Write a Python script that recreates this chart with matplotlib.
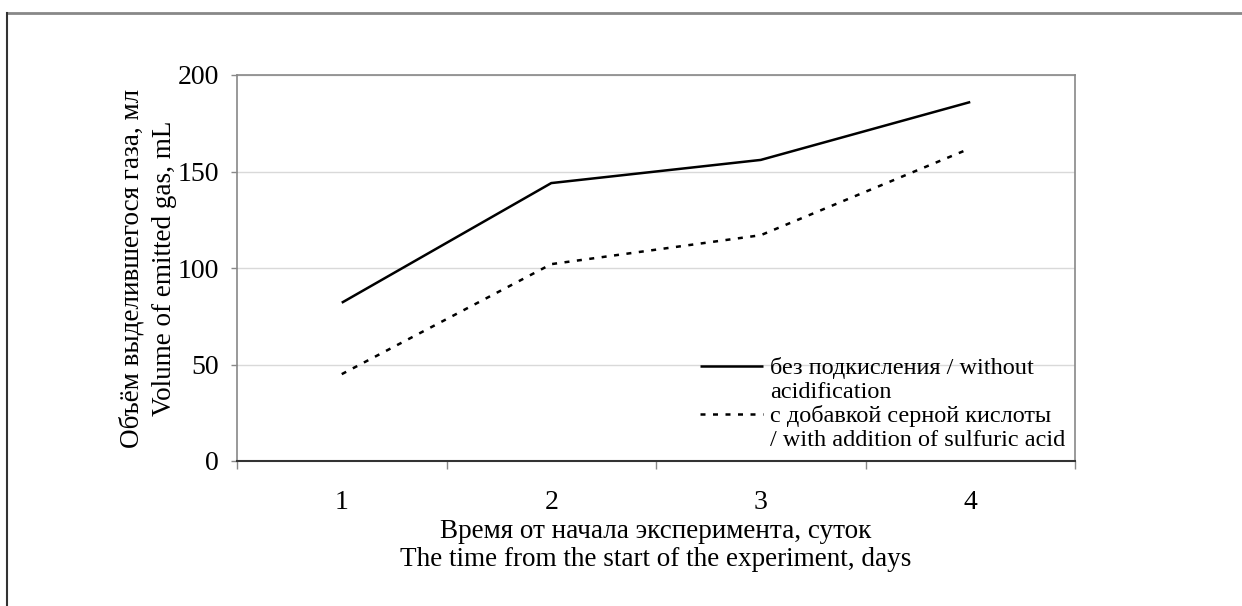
import matplotlib.pyplot as plt
from matplotlib.lines import Line2D

plt.rcParams['font.family'] = ['Liberation Serif', 'DejaVu Serif']

# ---- data ----
days = [1, 2, 3, 4]
day_labels = ['1', '2', '3', '4']
gas_plain = [82, 144, 156, 186]      # без подкисления / without acidification
gas_acid = [45, 102, 117, 162]       # с добавкой серной кислоты
y_ticks = [0, 50, 100, 150, 200]

fig = plt.figure(figsize=(12.42, 6.06), dpi=100)
ax = fig.add_axes([237 / 1242, 1 - 461 / 606, (1075 - 237) / 1242, (461 - 75) / 606])

# outer frame of the picture (only top and left are visible)
fig.add_artist(Line2D([7 / 1242, 1.01], [1 - 13 / 606] * 2, color='#888888', lw=2,
                      transform=fig.transFigure))
fig.add_artist(Line2D([7 / 1242] * 2, [-0.01, 1 - 13 / 606], color='#333333', lw=1.5,
                      transform=fig.transFigure))

ln1, = ax.plot(days, gas_plain, color='black', lw=1.8, solid_capstyle='butt')
ln2, = ax.plot(days, gas_acid, color='black', lw=1.8, linestyle=(0, (2, 3)))

ax.set_xlim(0.5, 4.5)
ax.set_ylim(0, 200)

# category axis: tick marks between categories, labels at centres
ax.set_xticks([0.5, 1.5, 2.5, 3.5, 4.5])
ax.set_xticklabels([])
ax.set_xticks(days, minor=True)
ax.set_xticklabels(day_labels, minor=True)
ax.tick_params(axis='x', which='major', length=6, width=1, color='#888888', direction='out')
ax.tick_params(axis='x', which='minor', length=0, pad=21, labelsize=20)

ax.set_yticks(y_ticks)
ax.tick_params(axis='y', length=4, width=1, color='#888888', pad=9, labelsize=20)
ax.yaxis.grid(True, color='#d9d9d9', lw=1)
ax.set_axisbelow(True)

for side in ['top', 'right', 'left']:
    ax.spines[side].set_color('#888888')
    ax.spines[side].set_linewidth(1.2)
ax.spines['bottom'].set_color('#333333')
ax.spines['bottom'].set_linewidth(1.5)

ax.set_xlabel('Время от начала эксперимента, суток\nThe time from the start of the experiment, days',
              fontsize=19.5, linespacing=1.15, labelpad=3)
ax.set_ylabel('Объём выделившегося газа, мл\nVolume of emitted gas, mL',
              fontsize=19.5, linespacing=1.38, labelpad=0.5)

blank = Line2D([], [], color='none')
handles = [ln1, blank, ln2, blank]
labels = ['без подкисления / without', 'acidification',
          'с добавкой серной кислоты', '/ with addition of sulfuric acid']
ax.legend(handles, labels, loc='lower right', bbox_to_anchor=(1.0, 0.0),
          frameon=False, fontsize=17.5, handlelength=2.6, handletextpad=0.3,
          labelspacing=0.08, borderaxespad=0.2, borderpad=0.2)

fig.savefig('out.png', dpi=100)
